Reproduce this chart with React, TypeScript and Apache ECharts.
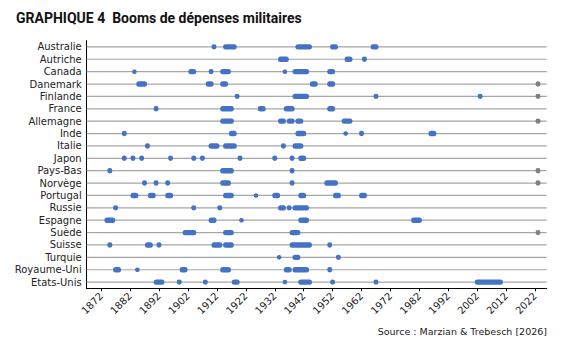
import React, { useEffect, useRef } from "react";
import * as echarts from "echarts";

const countries = [
  "Australie", "Autriche", "Canada", "Danemark", "Finlande", "France", "Allemagne",
  "Inde", "Italie", "Japon", "Pays-Bas", "Norvège", "Portugal", "Russie", "Espagne",
  "Suède", "Suisse", "Turquie", "Royaume-Uni", "Etats-Unis",
];

// Boom episodes [first year, last year] per country
const australie = [[1910, 1911], [1914, 1918], [1939, 1944], [1951, 1953], [1965, 1967]];
const autriche = [[1933, 1936], [1956, 1958], [1962, 1963]];
const canada = [[1883, 1883], [1902, 1904], [1909, 1910], [1913, 1916], [1935, 1935], [1938, 1943], [1950, 1952]];
const danemark = [[1884, 1887], [1908, 1910], [1913, 1915], [1944, 1946], [1950, 1952]];
const finlande = [[1918, 1919], [1938, 1943], [1966, 1967], [2002, 2003]];
const france = [[1890, 1891], [1913, 1917], [1926, 1928], [1935, 1938], [1950, 1952]];
const allemagne = [[1913, 1917], [1933, 1935], [1936, 1938], [1939, 1941], [1955, 1958]];
const inde = [[1879, 1880], [1916, 1918], [1939, 1942], [1956, 1956], [1961, 1962], [1985, 1987]];
const italie = [[1887, 1888], [1909, 1912], [1914, 1918], [1934, 1935], [1938, 1941]];
const japon = [[1879, 1880], [1882, 1883], [1885, 1886], [1895, 1896], [1903, 1904], [1906, 1907], [1919, 1920], [1931, 1932], [1937, 1938], [1940, 1942]];
const paysBas = [[1874, 1875], [1913, 1917], [1937, 1938]];
const norvege = [[1886, 1887], [1890, 1891], [1894, 1895], [1913, 1916], [1937, 1938], [1949, 1953]];
const portugal = [[1882, 1884], [1888, 1890], [1894, 1896], [1914, 1917], [1925, 1925], [1931, 1933], [1940, 1942], [1952, 1954], [1961, 1963]];
const russie = [[1876, 1877], [1903, 1904], [1912, 1913], [1933, 1935], [1936, 1937], [1938, 1943]];
const espagne = [[1873, 1876], [1909, 1911], [1920, 1920], [1940, 1943], [1979, 1982]];
const suede = [[1900, 1904], [1914, 1917], [1937, 1940]];
const suisse = [[1874, 1875], [1887, 1889], [1891, 1892], [1910, 1913], [1914, 1917], [1937, 1944], [1950, 1951]];
const turquie = [[1933, 1933], [1938, 1940], [1953, 1954]];
const royaumeUni = [[1876, 1878], [1884, 1884], [1899, 1901], [1913, 1916], [1935, 1937], [1938, 1943], [1950, 1951]];
const etatsUnis = [[1890, 1893], [1898, 1899], [1907, 1908], [1917, 1919], [1935, 1935], [1940, 1944], [1951, 1952], [1966, 1967], [2001, 2010]];

const boomsByCountry = [
  australie, autriche, canada, danemark, finlande, france, allemagne, inde, italie, japon,
  paysBas, norvege, portugal, russie, espagne, suede, suisse, turquie, royaumeUni, etatsUnis,
];

// Ongoing booms (grey)
const ongoingCountries = ["Danemark", "Finlande", "Allemagne", "Pays-Bas", "Norvège", "Suède"];
const ongoingEpisode = [2022, 2023];

const tickYears = [1872, 1882, 1892, 1902, 1912, 1922, 1932, 1942, 1952, 1962, 1972, 1982, 1992, 2002, 2012, 2022];
const xMin = 1867;
const xMax = 2026;

const titleText = "GRAPHIQUE 4  Booms de dépenses militaires";
const sourceText = "Source : Marzian & Trebesch [2026]";

const BLUE = "#4472C4";
const GREY = "#808080";
const FONT = "DejaVu Sans";

export default function App() {
  const ref = useRef<HTMLDivElement>(null);

  useEffect(() => {
    if (!ref.current) return;
    const chart = echarts.init(ref.current, null, { renderer: "svg" });

    const boomData: any[] = [];
    boomsByCountry.forEach((eps, i) => {
      eps.forEach(([a, b]) => boomData.push([a, b, i, 0]));
    });
    ongoingCountries.forEach((c) => {
      const i = countries.indexOf(c);
      boomData.push([ongoingEpisode[0], ongoingEpisode[1], i, 1]);
    });

    const rowData = countries.map((_, i) => [xMin, i]);

    chart.setOption({
      animation: false,
      backgroundColor: "#ffffff",
      grid: { left: 86.7, right: 22.3, top: 40.7, bottom: 59.7 },
      xAxis: {
        type: "value",
        min: xMin,
        max: xMax,
        axisLine: { show: true, onZero: false, lineStyle: { color: "#000", width: 1 } },
        axisTick: { show: true, length: 3, customValues: tickYears, lineStyle: { color: "#000" } },
        axisLabel: {
          customValues: tickYears,
          rotate: 45,
          margin: 6,
          fontSize: 10,
          fontFamily: FONT,
          color: "#222",
          formatter: (v: number) => String(v),
        },
        splitLine: { show: false },
      },
      yAxis: {
        type: "category",
        data: countries,
        inverse: true,
        axisLine: { show: true, lineStyle: { color: "#000", width: 1 } },
        axisTick: { show: false },
        axisLabel: { interval: 0, fontSize: 10, fontFamily: FONT, color: "#222", margin: 5 },
        splitLine: { show: false },
      },
      series: [
        {
          type: "custom",
          z: 1,
          silent: true,
          encode: { x: 0, y: 1 },
          data: rowData,
          renderItem: (params: any, api: any) => {
            const p = api.coord([api.value(0), api.value(1)]);
            const cs = params.coordSys;
            return {
              type: "line",
              shape: { x1: cs.x, y1: p[1], x2: cs.x + cs.width, y2: p[1] },
              style: { stroke: "#A6A6A6", lineWidth: 1.2 },
            };
          },
        },
        {
          type: "custom",
          z: 2,
          encode: { x: [0, 1], y: 2 },
          data: boomData,
          renderItem: (params: any, api: any) => {
            const a = api.value(0);
            const b = api.value(1);
            const row = api.value(2);
            const grey = api.value(3);
            const p0 = api.coord([a, row]);
            const p1 = api.coord([b + 1, row]);
            const color = grey ? GREY : BLUE;
            if (a === b) {
              return {
                type: "circle",
                shape: { cx: (p0[0] + p1[0]) / 2, cy: p0[1], r: 2.3 },
                style: { fill: color },
              };
            }
            return {
              type: "rect",
              shape: { x: p0[0] + 0.4, y: p0[1] - 2.7, width: p1[0] - p0[0] - 0.8, height: 5.4, r: 2.5 },
              style: { fill: color },
            };
          },
        },
      ],
      graphic: [
        {
          type: "text",
          left: 16,
          top: 11,
          style: {
            text: titleText,
            font: "bold 14px Roboto",
            fill: "#111",
          },
        },
        {
          type: "text",
          right: 22,
          top: 326,
          style: {
            text: sourceText,
            font: `9.5px "${FONT}"`,
            fill: "#222",
          },
        },
      ],
    });

    return () => chart.dispose();
  }, []);

  return (
    <div
      ref={ref}
      style={{ position: "fixed", left: 0, top: 0, width: 569, height: 348, background: "#fff" }}
    />
  );
}
